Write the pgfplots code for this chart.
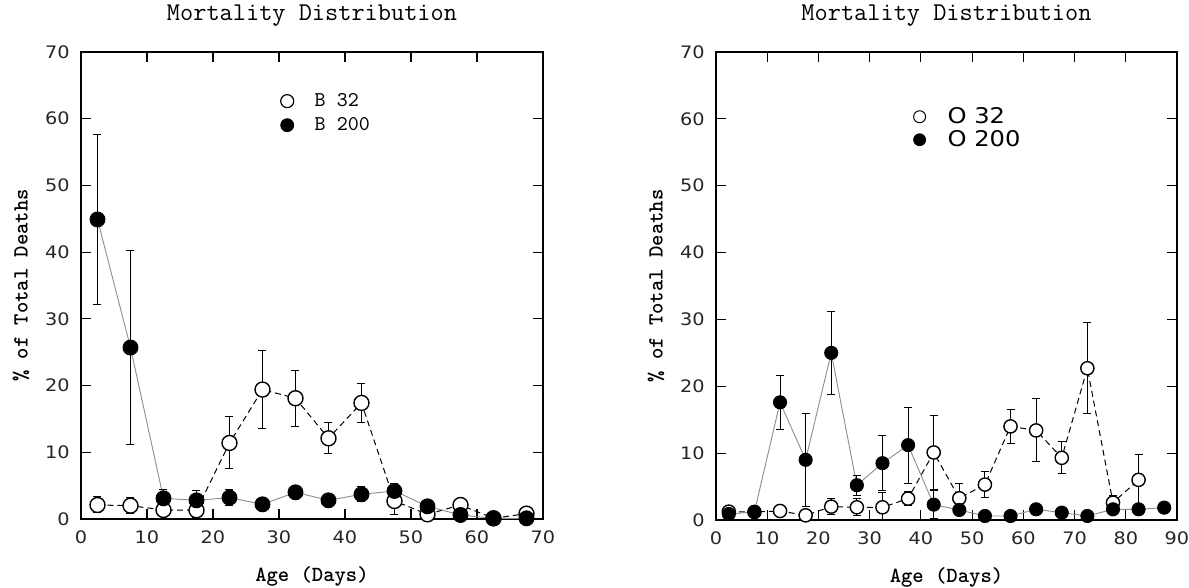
\documentclass[border=0pt]{standalone}
\usepackage{fontspec}
\usepackage{pgfplots}
\pgfplotsset{compat=1.18}
\usepackage{pgfplotstable}
\newfontfamily\tickfont[FakeStretch=1.12]{DejaVu Sans}

\pgfplotstableread{
x y e
2.5 2.1 1.2
7.5 2.0 1.2
12.5 1.35 0.8
17.5 1.3 1.0
22.5 11.4 3.9
27.5 19.4 5.9
32.5 18.1 4.2
37.5 12.1 2.3
42.5 17.4 2.9
47.5 2.7 2.0
52.5 0.7 0.3
57.5 2.1 0.3
62.5 0.1 0.2
67.5 0.8 0.3
}\Bopen
\pgfplotstableread{
x y e
2.5 44.9 12.8
7.5 25.7 14.6
12.5 3.1 1.3
17.5 2.8 1.5
22.5 3.2 1.2
27.5 2.2 0.3
32.5 4.0 0.3
37.5 2.8 0.3
42.5 3.7 1.1
47.5 4.2 1.1
52.5 1.9 0.3
57.5 0.6 0.2
62.5 0.1 0.2
67.5 0.1 0.2
}\Bfill
\pgfplotstableread{
x y e
2.5 1.25 0.3
7.5 1.2 0.2
12.5 1.35 0.3
17.5 0.7 0.3
22.5 2.0 1.2
27.5 1.9 1.3
32.5 1.9 2.2
37.5 3.2 1.1
42.5 10.1 5.6
47.5 3.25 2.2
52.5 5.3 2.0
57.5 14.0 2.6
62.5 13.4 4.7
67.5 9.3 2.4
72.5 22.7 6.8
77.5 2.6 1.0
82.5 6.0 3.8
}\Oopen
\pgfplotstableread{
x y e
2.5 0.9 0.3
7.5 1.2 0.3
12.5 17.6 4.0
17.5 9.0 7.0
22.5 25.0 6.2
27.5 5.2 1.5
32.5 8.5 4.1
37.5 11.2 5.7
42.5 2.3 2.1
47.5 1.5 0.3
52.5 0.6 0.2
57.5 0.6 0.2
62.5 1.6 0.3
67.5 1.1 0.2
72.5 0.6 0.2
77.5 1.6 0.3
82.5 1.6 0.3
87.5 1.85 0.3
}\Ofill

\pgfplotsset{
  myax/.style={
    scale only axis, anchor=south west,
    ymin=0, ymax=70, ytick={0,10,...,70},
    tick align=inside, major tick length=5bp,
    tick style={line width=0.6bp, black},
    axis line style={line width=0.7bp},
    /pgf/number format/assume math mode=true,
    ticklabel style={font=\tickfont\fontsize{8.6bp}{9.5bp}\selectfont, text=black!85},
    xticklabel style={inner sep=0pt, yshift=-5.5bp},
    yticklabel style={inner sep=0pt, xshift=-5.5bp},
    title style={font=\ttfamily\fontsize{12.8bp}{14bp}\selectfont, at={(0.5,1)}, anchor=base, yshift=10bp, inner sep=0pt},
    xlabel style={font=\ttfamily\bfseries\fontsize{10.8bp}{12bp}\selectfont, at={(axis description cs:0.5,0)}, anchor=center, yshift=-28.5bp},
    ylabel style={font=\ttfamily\bfseries\fontsize{10.8bp}{12bp}\selectfont, at={([xshift=-30bp]axis description cs:0,0.5)}, anchor=center},
    title={Mortality Distribution},
    xlabel={Age (Days)},
    ylabel={\% of Total Deaths},
    legend cell align=left,
  },
  errs/.style={error bars/.cd, y dir=both, y explicit,
    error bar style={line width=0.5bp, black, solid},
    error mark options={rotate=90, mark size=2bp, line width=0.5bp, black, solid}, /pgfplots/.cd},
  openln/.style={black, line width=0.5bp, dash pattern=on 3bp off 2bp, mark=*, mark options={solid, fill=white, draw=black, line width=0.7bp}},
  fillln/.style={black!45, line width=0.45bp, mark=*, mark options={solid, fill=black, draw=black}},
}

\begin{document}
\begin{tikzpicture}
\useasboundingbox (0,0) rectangle (594.5bp,294bp);
\begin{axis}[myax, at={(40.5bp,34.5bp)}, width=231bp, height=233.5bp,
  xmin=0, xmax=70, xtick={0,10,...,70},
  legend style={draw=none, fill=none, inner sep=0pt, row sep=2bp, column sep=9.5bp,
    nodes={inner sep=1bp},
    font=\ttfamily\fontsize{10.5bp}{12bp}\selectfont,
    at={(axis cs:30.2,64.2)}, anchor=north west}]
\addplot+[forget plot, openln, mark size=3.75bp, errs] table[x=x, y=y, y error=e] {\Bopen};
\addplot+[forget plot, fillln, mark size=3.75bp, errs] table[x=x, y=y, y error=e] {\Bfill};
\addlegendimage{only marks, mark=*, mark size=3.25bp, mark options={fill=white, draw=black, line width=0.6bp}}
\addlegendentry{B 32}
\addlegendimage{only marks, mark=*, mark size=3.25bp, mark options={fill=black, draw=black}}
\addlegendentry{B 200}
\end{axis}
\begin{axis}[myax, at={(358bp,34bp)}, width=230.5bp, height=234bp,
  xmin=0, xmax=90, xtick={0,10,...,90},
  legend style={draw=none, fill=none, inner sep=0pt, row sep=0bp, column sep=10bp,
    nodes={inner sep=1bp},
    font=\tickfont\fontsize{10.8bp}{12bp}\selectfont,
    at={(axis cs:38.5,62.1)}, anchor=north west}]
\addplot+[forget plot, openln, mark size=3.3bp, errs] table[x=x, y=y, y error=e] {\Oopen};
\addplot+[forget plot, fillln, mark size=3.3bp, errs] table[x=x, y=y, y error=e] {\Ofill};
\addlegendimage{only marks, mark=*, mark size=3bp, mark options={fill=white, draw=black, line width=0.5bp}}
\addlegendentry{O 32}
\addlegendimage{only marks, mark=*, mark size=3bp, mark options={fill=black, draw=black}}
\addlegendentry{O 200}
\end{axis}
\end{tikzpicture}
\end{document}
